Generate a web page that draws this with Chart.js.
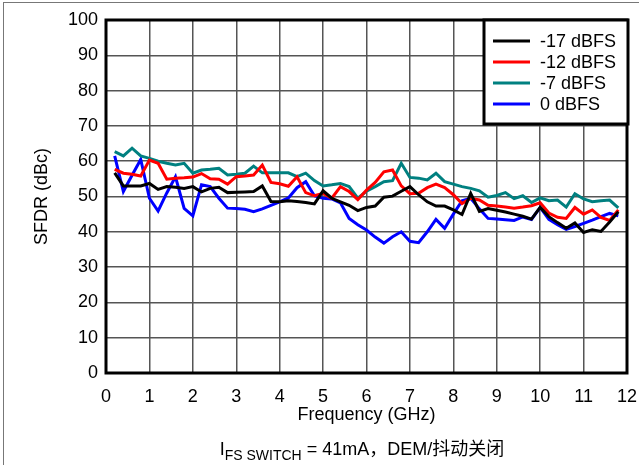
<!DOCTYPE html>
<html>
<head>
<meta charset="utf-8">
<script src="https://cdn.jsdelivr.net/npm/chart.js@4.4.1/dist/chart.umd.min.js"></script>
<style>
  html, body { margin: 0; padding: 0; background: #fff; }
  #wrap { position: relative; width: 639px; height: 465px; overflow: hidden; }
  #frame { position: absolute; left: 3px; top: 2px; width: 700px; height: 500px;
           border-left: 1px solid #777; border-top: 1px solid #777; pointer-events: none; }
</style>
</head>
<body>
<div id="wrap">
  <canvas id="chart" width="639" height="465"></canvas>
  <div id="frame"></div>
</div>
<script>
// frequency in GHz
const freqs = [0.2, 0.4, 0.6, 0.8, 1.0, 1.2, 1.4, 1.6, 1.8, 2.0,
  2.2, 2.4, 2.6, 2.8, 3.0, 3.2, 3.4, 3.6, 3.8, 4.0,
  4.2, 4.4, 4.6, 4.8, 5.0, 5.2, 5.4, 5.6, 5.8, 6.0,
  6.2, 6.4, 6.6, 6.8, 7.0, 7.2, 7.4, 7.6, 7.8, 8.0,
  8.2, 8.4, 8.6, 8.8, 9.0, 9.2, 9.4, 9.6, 9.8, 10.0,
  10.2, 10.4, 10.6, 10.8, 11.0, 11.2, 11.4, 11.6, 11.8];

// SFDR (dBc)
const sfdrM17 = [56.7, 53.0, 53.0, 53.0, 53.7, 52.0, 52.8, 52.6, 52.3, 52.8,
  51.3, 52.3, 52.6, 51.1, 51.2, 51.3, 51.4, 53.0, 48.6, 48.5,
  48.8, 48.6, 48.3, 47.9, 51.6, 49.5, 48.5, 47.5, 46.0, 46.9,
  47.3, 49.8, 50.1, 51.5, 52.8, 50.5, 48.5, 47.3, 47.3, 46.2,
  44.9, 50.9, 45.8, 46.6, 46.1, 45.6, 45.0, 44.4, 43.6, 46.9,
  44.3, 42.6, 41.0, 42.5, 39.8, 40.6, 40.1, 42.8, 45.7];

const sfdrM12 = [57.7, 56.6, 56.3, 55.8, 60.3, 59.4, 54.9, 55.2, 55.3, 55.5,
  56.5, 55.0, 54.9, 53.5, 55.6, 55.8, 56.1, 58.9, 54.0, 53.6,
  52.9, 55.6, 51.1, 50.2, 50.9, 49.5, 52.8, 51.4, 49.1, 51.8,
  54.0, 57.0, 57.5, 53.0, 50.8, 50.9, 52.5, 53.5, 52.5, 50.5,
  48.0, 49.5, 49.0, 47.5, 47.3, 47.0, 46.7, 47.0, 47.4, 48.2,
  45.3, 44.1, 43.8, 46.9, 45.0, 46.2, 44.1, 43.2, 46.2];

const sfdrM7 = [62.7, 61.5, 63.7, 61.5, 60.8, 60.0, 59.4, 58.9, 59.4, 56.6,
  57.5, 57.7, 58.0, 56.1, 56.3, 56.6, 58.6, 56.7, 56.7, 56.7,
  56.7, 55.6, 56.6, 54.5, 53.0, 53.3, 53.7, 52.8, 49.5, 51.5,
  52.8, 54.2, 54.5, 59.4, 55.4, 55.2, 54.7, 56.6, 54.2, 53.5,
  52.8, 52.3, 51.6, 49.8, 50.3, 51.1, 49.4, 50.2, 48.3, 49.6,
  48.8, 49.0, 47.0, 50.8, 49.3, 48.5, 48.8, 49.0, 46.8];

const sfdr0 = [61.5, 51.4, 56.0, 60.5, 49.5, 45.9, 51.0, 55.6, 46.6, 44.5,
  53.3, 52.8, 49.5, 46.7, 46.6, 46.4, 45.7, 46.5, 47.5, 48.5,
  49.6, 52.5, 54.2, 50.2, 49.5, 49.3, 48.2, 43.8, 42.0, 40.5,
  38.5, 36.8, 38.6, 40.0, 37.3, 36.9, 40.0, 43.5, 41.0, 45.0,
  48.8, 49.5, 46.5, 43.8, 43.6, 43.4, 43.2, 44.2, 43.5, 46.9,
  43.5, 42.0, 40.7, 41.5, 42.4, 43.3, 44.3, 45.2, 44.5];

const seriesLabels = ["-17 dBFS", "-12 dBFS", "-7 dBFS", "0 dBFS"];
const seriesColors = ["#000000", "#ff0000", "#008080", "#0000ff"];
const seriesValues = [sfdrM17, sfdrM12, sfdrM7, sfdr0];

const FONT = "'Liberation Sans', Arial, 'Noto Sans CJK SC', sans-serif";

const toPoints = (vals) => vals.map((v, i) => ({ x: freqs[i], y: v }));

// thick frame round the plot area + boxed legend + caption under the axis
const decorations = {
  id: "decorations",
  afterDraw(chart) {
    const { ctx, chartArea: a } = chart;
    ctx.save();
    ctx.strokeStyle = "#000";
    ctx.lineWidth = 3;
    ctx.strokeRect(a.left, a.top, a.right - a.left, a.bottom - a.top);

    // legend box
    const lx = 484, ly = 20, lw = 144, lh = 104;
    ctx.fillStyle = "#fff";
    ctx.fillRect(lx, ly, lw, lh);
    ctx.strokeRect(lx, ly, lw, lh);
    ctx.font = "18px " + FONT;
    ctx.textBaseline = "middle";
    chart.data.datasets.forEach((ds, i) => {
      const y = 41 + i * 21;
      ctx.strokeStyle = ds.borderColor;
      ctx.lineWidth = 3;
      ctx.beginPath();
      ctx.moveTo(493, y);
      ctx.lineTo(530, y);
      ctx.stroke();
      ctx.fillStyle = "#000";
      ctx.fillText(ds.label, 540, y + 1);
    });

    // caption: I_FS SWITCH = 41mA，DEM/抖动关闭
    const big = "18px " + FONT, small = "14px " + FONT;
    const parts = [["I", big, 0], ["FS SWITCH", small, 5], [" = 41mA，DEM/抖动关闭", big, 0]];
    let total = 0;
    parts.forEach(p => { ctx.font = p[1]; total += ctx.measureText(p[0]).width; });
    let x = 362 - total / 2;
    ctx.fillStyle = "#000";
    ctx.textBaseline = "alphabetic";
    parts.forEach(p => {
      ctx.font = p[1];
      ctx.fillText(p[0], x, 455 + p[2]);
      x += ctx.measureText(p[0]).width;
    });
    ctx.restore();
  }
};

new Chart(document.getElementById("chart"), {
  type: "line",
  data: {
    datasets: seriesLabels.map((label, i) => ({
      label,
      data: toPoints(seriesValues[i]),
      borderColor: seriesColors[i],
      backgroundColor: seriesColors[i],
      borderWidth: 3,
      pointRadius: 0,
      tension: 0,
    })),
  },
  options: {
    responsive: false,
    animation: false,
    layout: { padding: { top: 20, right: 12, left: 0, bottom: 0 } },
    plugins: {
      legend: { display: false },
      tooltip: { enabled: false },
    },
    scales: {
      x: {
        type: "linear",
        min: 0,
        max: 12,
        afterFit: (scale) => { scale.height = 92; scale.paddingLeft = 0; scale.paddingRight = 0; },
        ticks: { stepSize: 1, color: "#000", padding: 13, font: { family: FONT, size: 18 } },
        grid: { color: "#555", lineWidth: 1.5, drawTicks: false },
        border: { display: false },
        title: {
          display: true,
          text: "Frequency (GHz)",
          color: "#000",
          font: { family: FONT, size: 18 },
          padding: { top: 0, bottom: 39 },
        },
      },
      y: {
        min: 0,
        max: 100,
        afterFit: (scale) => { scale.width = 106; scale.paddingTop = 0; scale.paddingBottom = 0; },
        ticks: { stepSize: 10, color: "#000", padding: 8, font: { family: FONT, size: 18 } },
        grid: { color: "#555", lineWidth: 1.5, drawTicks: false },
        border: { display: false },
        title: {
          display: true,
          text: "SFDR (dBc)",
          color: "#000",
          font: { family: FONT, size: 18 },
          padding: { top: 31, bottom: 0 },
        },
      },
    },
  },
  plugins: [decorations],
});
</script>
</body>
</html>
